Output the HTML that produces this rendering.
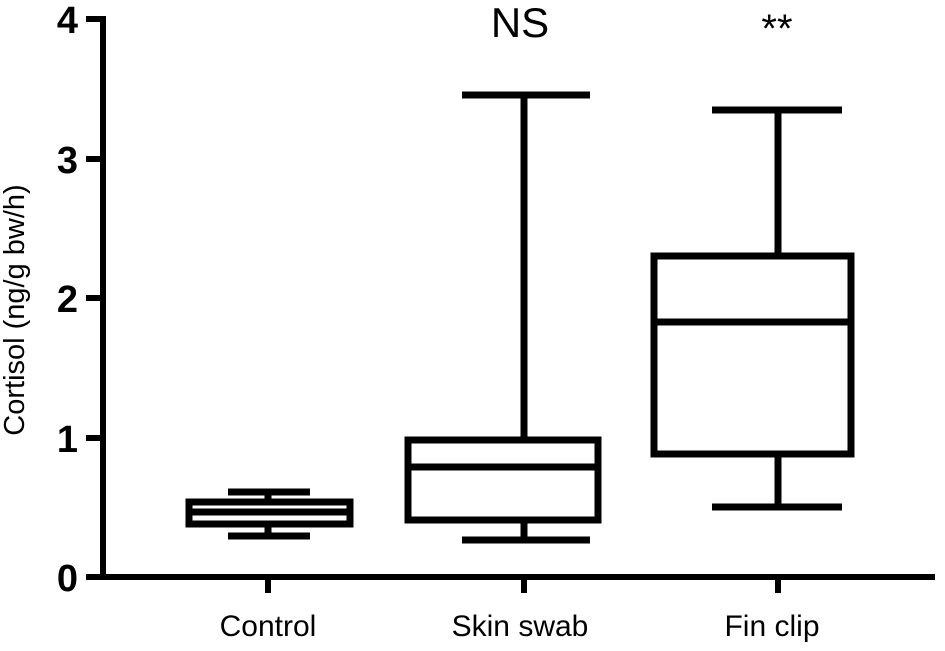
<!DOCTYPE html>
<html><head><style>body{margin:0;background:#fff}</style></head><body>
<svg width="945" height="646" viewBox="0 0 945 646" xmlns="http://www.w3.org/2000/svg" font-family="Liberation Sans, sans-serif">
<g stroke="#000" stroke-width="6" fill="none">
<line x1="103" y1="16" x2="103" y2="580"/>
<line x1="100" y1="577" x2="935" y2="577"/>
<line x1="86" y1="19" x2="103" y2="19"/>
<line x1="86" y1="159" x2="103" y2="159"/>
<line x1="86" y1="298" x2="103" y2="298"/>
<line x1="86" y1="438" x2="103" y2="438"/>
<line x1="86" y1="577" x2="103" y2="577"/>
<line x1="268" y1="577" x2="268" y2="593"/>
<line x1="524" y1="577" x2="524" y2="593"/>
<line x1="778" y1="577" x2="778" y2="593"/>
</g>
<g stroke="#000" stroke-width="7" fill="none">
<line x1="268" y1="492" x2="268" y2="536"/>
<line x1="228" y1="492" x2="310" y2="492"/>
<line x1="228" y1="536" x2="310" y2="536"/>
<rect x="189" y="502" width="161" height="22" fill="#fff"/>
<line x1="189" y1="512" x2="350" y2="512"/>
<line x1="524" y1="95" x2="524" y2="540"/>
<line x1="462" y1="95" x2="590" y2="95"/>
<line x1="462" y1="540" x2="590" y2="540"/>
<rect x="408" y="440" width="190" height="80" fill="#fff"/>
<line x1="408" y1="467" x2="598" y2="467"/>
<line x1="778" y1="110" x2="778" y2="507"/>
<line x1="712" y1="110" x2="842" y2="110"/>
<line x1="712" y1="507" x2="842" y2="507"/>
<rect x="654" y="256" width="197" height="198" fill="#fff"/>
<line x1="654" y1="322" x2="851" y2="322"/>
</g>
<g font-size="38" font-weight="bold" text-anchor="end">
<text x="78" y="33">4</text>
<text x="78" y="173">3</text>
<text x="78" y="312">2</text>
<text x="78" y="452">1</text>
<text x="78" y="591">0</text>
</g>
<text transform="translate(24,310) rotate(-90)" font-size="29" text-anchor="middle">Cortisol (ng/g bw/h)</text>
<g font-size="30" text-anchor="middle">
<text x="268" y="636">Control</text>
<text x="520" y="636">Skin swab</text>
<text x="772" y="636">Fin clip</text>
</g>
<text x="520" y="37" font-size="42" text-anchor="middle">NS</text>
<text x="777" y="42" font-size="40" text-anchor="middle">**</text>
</svg>
</body></html>
